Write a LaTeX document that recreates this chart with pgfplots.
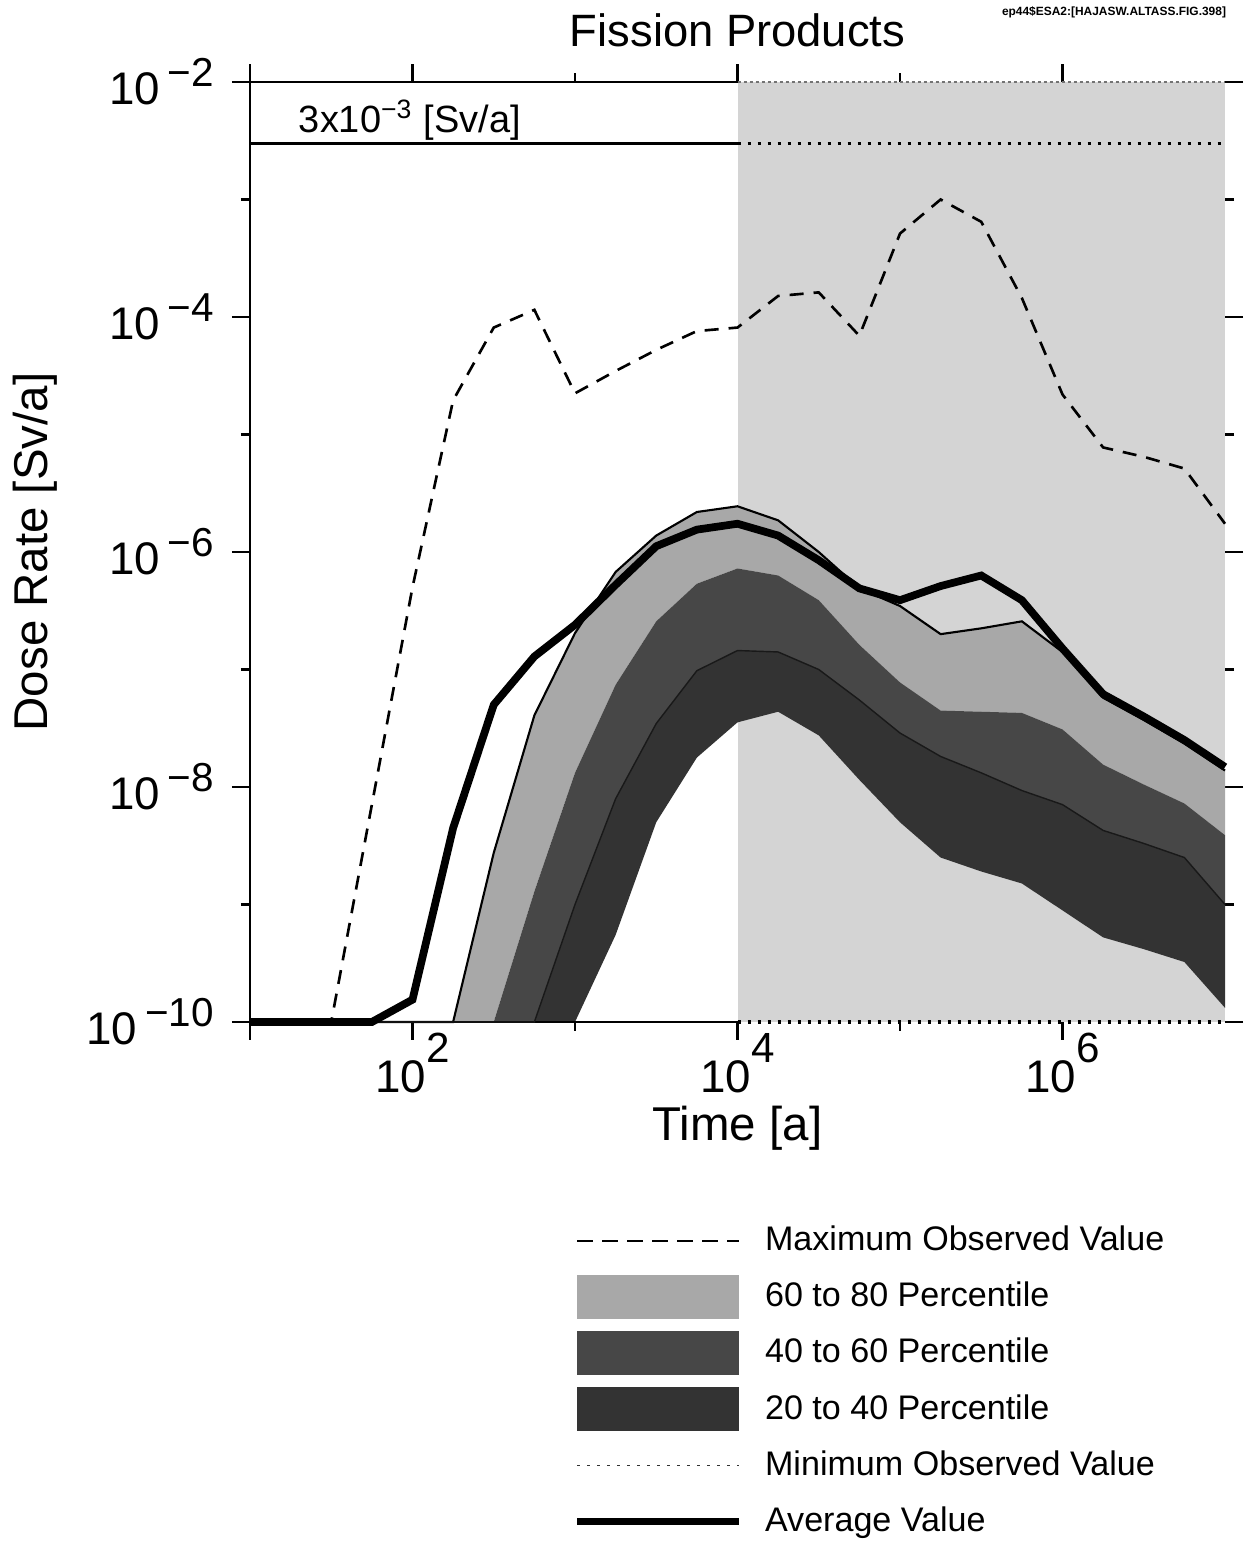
\documentclass[border=0pt]{standalone}
\usepackage{fontspec}
\setmainfont{Liberation Sans}
\usepackage{pgfplots}
\usepackage{pgfplotstable}
\pgfplotsset{compat=1.18}
\usepgfplotslibrary{fillbetween}

\newcommand{\xtl}[1]{{\fontsize{13}{13}\selectfont 10\raisebox{3.0mm}{\fontsize{12}{12}\selectfont #1}}}
\newcommand{\ytl}[1]{{\fontsize{13}{13}\selectfont 10\,\raisebox{1.8mm}{\fontsize{11.5}{11.5}\selectfont −#1}}}

\pgfplotstableread{
t        avg      p80      p60      p40      p20      mx
10       1e-10    1e-10    1e-10    1e-10    1e-10    1e-10
17.78    1e-10    1e-10    1e-10    1e-10    1e-10    1e-10
31.62    1e-10    1e-10    1e-10    1e-10    1e-10    1e-10
56.23    1e-10    1e-10    1e-10    1e-10    1e-10    7.08e-9
100      1.55e-10 1e-10    1e-10    1e-10    1e-10    5.01e-7
177.8    4.47e-9  1e-10    1e-10    1e-10    1e-10    1.95e-5
316.2    5.01e-8  2.75e-9  1e-10    1e-10    1e-10    8.13e-5
562.3    1.29e-7  4.07e-8  1.29e-9  1e-10    1e-10    1.15e-4
1000     2.40e-7  2.04e-7  1.32e-8  1.0e-9   1e-10    2.24e-5
1778     5.25e-7  6.76e-7  7.41e-8  7.94e-9  5.50e-10 3.47e-5
3162     1.12e-6  1.38e-6  2.57e-7  3.47e-8  5.01e-9  5.25e-5
5623     1.55e-6  2.19e-6  5.37e-7  9.77e-8  1.78e-8  7.59e-5
10000    1.74e-6  2.45e-6  7.24e-7  1.45e-7  3.55e-8  8.13e-5
17783    1.38e-6  1.86e-6  6.31e-7  1.41e-7  4.37e-8  1.51e-4
31623    8.51e-7  1.0e-6   3.89e-7  1.0e-7   2.75e-8  1.62e-4
56234    4.90e-7  4.90e-7  1.62e-7  5.50e-8  1.15e-8  6.92e-5
100000   3.89e-7  3.47e-7  7.76e-8  2.88e-8  5.01e-9  5.13e-4
177828   5.13e-7  2.00e-7  4.47e-8  1.82e-8  2.51e-9  1.0e-3
316228   6.31e-7  2.24e-7  4.37e-8  1.32e-8  1.91e-9  6.46e-4
562341   3.89e-7  2.57e-7  4.27e-8  9.33e-9  1.51e-9  1.45e-4
1000000  1.51e-7  1.41e-7  3.09e-8  7.08e-9  8.91e-10 2.19e-5
1778279  6.17e-8  5.75e-8  1.55e-8  4.27e-9  5.25e-10 7.76e-6
3162278  3.98e-8  3.72e-8  1.05e-8  3.31e-9  4.17e-10 6.46e-6
5623413  2.51e-8  2.34e-8  7.24e-9  2.51e-9  3.24e-10 5.13e-6
10000000 1.48e-8  1.38e-8  3.89e-9  1.0e-9   1.32e-10 1.74e-6
}\data

\begin{document}
\begin{tikzpicture}
\begin{axis}[
  at={(0,0)}, anchor=south west,
  width=97.5mm, height=94mm, scale only axis,
  xmode=log, ymode=log,
  xmin=10, xmax=1e7, ymin=1e-10, ymax=1e-2,
  clip=false,
  axis line style={draw=none},
  tick align=outside,
  tick style={draw=black, line width=0.6pt},
  major tick length=1.8mm, minor tick length=0.9mm,
  xtick={10,1e2,1e4,1e6},
  xticklabels={{},\xtl{2},\xtl{4},\xtl{6}},
  minor xtick={1e3,1e5},
  ytick={1e-10,1e-8,1e-6,1e-4,1e-2},
  yticklabels={\ytl{10},\ytl{8},\ytl{6},\ytl{4},\ytl{2}},
  minor ytick={1e-9,1e-7,1e-5,1e-3},
  xticklabel style={yshift=1.9mm},
  yticklabel style={xshift=-0.6mm},
  xlabel={Time [a]},
  ylabel={Dose Rate [Sv/a]},
  xlabel style={font=\fontsize{13.5}{15}\selectfont, at={(axis description cs:0.5,0)}, anchor=center, yshift=-10.6mm},
  ylabel style={font=\fontsize{13.5}{15}\selectfont, at={(axis description cs:-0.2205,0.5)}, anchor=center},
  title={Fission Products},
  title style={font=\fontsize{12.9}{14}\selectfont, at={(axis description cs:0.5,1)}, anchor=center, yshift=3.1mm},
  legend style={at={(axis description cs:0.3313,-0.2021)}, anchor=north west, draw=none, fill=none,
    font=\fontsize{9.7}{11}\selectfont, row sep=0pt, column sep=2.2mm, inner sep=0pt,
    nodes={inner sep=0pt}},
  legend cell align=left,
]
% shaded region 10^4 .. 10^7
\addplot[draw=none, name path=bgT, forget plot] coordinates {(1e4,1e-2) (1e7,1e-2)};
\addplot[draw=none, name path=bgB, forget plot] coordinates {(1e4,1e-10) (1e7,1e-10)};
\addplot[fill=black!17, draw=none, forget plot] fill between[of=bgT and bgB];

% percentile paths
\addplot[draw=none, name path=p80, forget plot] table[x=t,y=p80] {\data};
\addplot[draw=none, name path=p60, forget plot] table[x=t,y=p60] {\data};
\addplot[draw=none, name path=p40, forget plot] table[x=t,y=p40] {\data};
\addplot[draw=none, name path=p20, forget plot] table[x=t,y=p20] {\data};

\addplot[fill=black!34, draw=none, forget plot] fill between[of=p80 and p60];
\addplot[fill=black!72, draw=none, forget plot] fill between[of=p60 and p40];
\addplot[fill=black!80, draw=none, forget plot] fill between[of=p40 and p20];

% axis frame lines (solid left of 10^4, halftone-like in the shaded part)
\addplot[black, line width=0.6pt, forget plot] coordinates {(10,1e-10) (10,1e-2)};
\addplot[black, line width=0.6pt, forget plot] coordinates {(10,1e-10) (1e4,1e-10)};
\addplot[black, line width=0.6pt, forget plot] coordinates {(10,1e-2) (1e4,1e-2)};
\addplot[black!55, line width=0.5pt, dash pattern=on 0.3mm off 0.3mm, forget plot] coordinates {(1e4,1e-2) (1e7,1e-2)};

\addplot[black, line width=0.6pt, forget plot] table[x=t,y=p80] {\data};
\addplot[black!90, line width=0.4pt, forget plot] table[x=t,y=p40] {\data};

% max observed
\addplot[black, line width=0.75pt, dash pattern=on 1.4mm off 1mm, forget plot] table[x=t,y=mx] {\data};
% average
\addplot[black, line width=2.2pt, forget plot] table[x=t,y=avg] {\data};
% min observed
\addplot[black, line width=0.9pt, dash pattern=on 0.35mm off 0.65mm, forget plot] coordinates {(1e4,1e-10) (1e7,1e-10)};
% limit 3e-3
\addplot[black, line width=0.7pt, forget plot] coordinates {(10,3e-3) (1e4,3e-3)};
\addplot[black, line width=1pt, dash pattern=on 0.35mm off 0.65mm, forget plot] coordinates {(1e4,3e-3) (1e7,3e-3)};

\node[anchor=base west, inner sep=0pt, font=\fontsize{10.8}{12}\selectfont] at (axis cs:19.8,3.7e-3) {3x10\textsuperscript{−3} [Sv/a]};
\node[font=\fontsize{3.4}{4}\selectfont\bfseries, anchor=center, xshift=-11.1mm, yshift=7mm] at (rel axis cs:1,1) {ep44\$ESA2:[HAJASW.ALTASS.FIG.398]};

% legend
\addlegendimage{legend image code/.code={\path[draw=none,fill=none] (0mm,-2.81mm) rectangle (16.2mm,2.81mm); \draw[black, line width=0.7pt, dash pattern=on 1.6mm off 0.9mm] (0mm,0mm) -- (16.2mm,0mm);}}
\addlegendentry{Maximum Observed Value}
\addlegendimage{legend image code/.code={\path[draw=none,fill=none] (0mm,-2.81mm) rectangle (16.2mm,2.81mm); \fill[black!34, draw=none] (0mm,-2.2mm) rectangle (16.2mm,2.2mm);}}
\addlegendentry{60 to 80 Percentile}
\addlegendimage{legend image code/.code={\path[draw=none,fill=none] (0mm,-2.81mm) rectangle (16.2mm,2.81mm); \fill[black!72, draw=none] (0mm,-2.2mm) rectangle (16.2mm,2.2mm);}}
\addlegendentry{40 to 60 Percentile}
\addlegendimage{legend image code/.code={\path[draw=none,fill=none] (0mm,-2.81mm) rectangle (16.2mm,2.81mm); \fill[black!80, draw=none] (0mm,-2.2mm) rectangle (16.2mm,2.2mm);}}
\addlegendentry{20 to 40 Percentile}
\addlegendimage{legend image code/.code={\path[draw=none,fill=none] (0mm,-2.81mm) rectangle (16.2mm,2.81mm); \draw[black!80, line width=0.5pt, dash pattern=on 0.25mm off 0.75mm] (0mm,0mm) -- (16.2mm,0mm);}}
\addlegendentry{Minimum Observed Value}
\addlegendimage{legend image code/.code={\path[draw=none,fill=none] (0mm,-2.81mm) rectangle (16.2mm,2.81mm); \draw[black, line width=2.1pt] (0mm,0mm) -- (16.2mm,0mm);}}
\addlegendentry{Average Value}
\end{axis}
\pgfresetboundingbox
\path[use as bounding box] (-25mm,-51.9mm) rectangle (99.4mm,102.2mm);
\end{tikzpicture}
\end{document}
